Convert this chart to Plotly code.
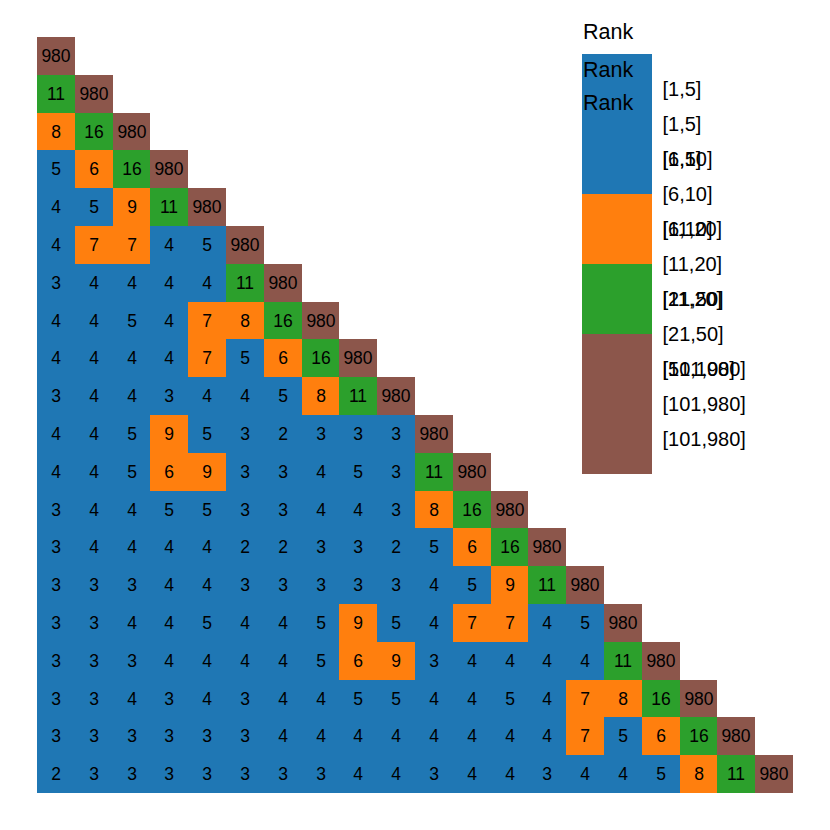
"""Matriz triangular de rangos con barra de color por categorías"""

import plotly.graph_objects as go

# Valores de rango por fila (triangular inferior)
rank_rows = [
    [980],
    [11, 980],
    [8, 16, 980],
    [5, 6, 16, 980],
    [4, 5, 9, 11, 980],
    [4, 7, 7, 4, 5, 980],
    [3, 4, 4, 4, 4, 11, 980],
    [4, 4, 5, 4, 7, 8, 16, 980],
    [4, 4, 4, 4, 7, 5, 6, 16, 980],
    [3, 4, 4, 3, 4, 4, 5, 8, 11, 980],
    [4, 4, 5, 9, 5, 3, 2, 3, 3, 3, 980],
    [4, 4, 5, 6, 9, 3, 3, 4, 5, 3, 11, 980],
    [3, 4, 4, 5, 5, 3, 3, 4, 4, 3, 8, 16, 980],
    [3, 4, 4, 4, 4, 2, 2, 3, 3, 2, 5, 6, 16, 980],
    [3, 3, 3, 4, 4, 3, 3, 3, 3, 3, 4, 5, 9, 11, 980],
    [3, 3, 4, 4, 5, 4, 4, 5, 9, 5, 4, 7, 7, 4, 5, 980],
    [3, 3, 3, 4, 4, 4, 4, 5, 6, 9, 3, 4, 4, 4, 4, 11, 980],
    [3, 3, 4, 3, 4, 3, 4, 4, 5, 5, 4, 4, 5, 4, 7, 8, 16, 980],
    [3, 3, 3, 3, 3, 3, 4, 4, 4, 4, 4, 4, 4, 4, 7, 5, 6, 16, 980],
    [2, 3, 3, 3, 3, 3, 3, 3, 4, 4, 3, 4, 4, 3, 4, 4, 5, 8, 11, 980],
]

# Categorías de rango
cat_labels = ['[1,5]', '[6,10]', '[11,20]', '[21,50]', '[51,100]', '[101,980]']
cat_upper = [5, 10, 20, 50, 100, 980]
# Posición de cada categoría en la barra de color principal
cat_level = [5.5, 3.5, 2.5, 1.5, 1.0, 0.5]

# Etiquetas de las tres barras de color superpuestas
cb_sets = [
    ['[1,5]', '[6,10]', '[11,20]', '[21,50]', '[51,100]', '[101,980]'],
    ['[1,5]', '[6,10]', '[11,20]', '[21,50]', '[101,980]'],
    ['[1,5]', '[6,10]', '[11,20]', '[101,980]'],
]
cb_title = 'Rank'
# Altura (paper) del título de cada barra
cb_title_y = [1.0066, 0.9563, 0.9127]

BLUE, ORANGE, GREEN, BROWN = '#1f77b4', '#ff7f0e', '#2ca02c', '#8c564b'
FONT = 'Liberation Sans, Arial, Helvetica, sans-serif'

n = len(rank_rows)
idx = list(range(1, n + 1))


def categoria(v):
    for i, up in enumerate(cat_upper):
        if v <= up:
            return i
    return len(cat_upper) - 1


z = []
txt = []
for fila in rank_rows:
    z.append([cat_level[categoria(v)] for v in fila] + [None] * (n - len(fila)))
    txt.append([str(v) for v in fila] + [''] * (n - len(fila)))

escala = [
    [0.0, BROWN], [2 / 6, BROWN],
    [2 / 6, GREEN], [3 / 6, GREEN],
    [3 / 6, ORANGE], [4 / 6, ORANGE],
    [4 / 6, BLUE], [1.0, BLUE],
]
transparente = [[0, 'rgba(0,0,0,0)'], [1, 'rgba(0,0,0,0)']]


def barra(etiquetas):
    k = len(etiquetas)
    return dict(
        xref='container', x=574 / 830, xanchor='left', xpad=0,
        yref='container', y=(830 - 281.5) / 830, yanchor='middle', ypad=0,
        lenmode='pixels', len=70 * k,
        thicknessmode='pixels', thickness=70,
        outlinewidth=0,
        tickmode='array',
        tickvals=[k - 0.5 - i for i in range(k)],
        ticktext=etiquetas,
        ticks='outside', ticklen=7, tickcolor='rgba(0,0,0,0)',
        tickfont=dict(size=20, color='black', family=FONT),
    )


fig = go.Figure()

fig.add_trace(go.Heatmap(
    x=idx, y=idx, z=z,
    text=txt, texttemplate='%{text}',
    textfont=dict(size=17.5, color='black', family=FONT),
    colorscale=escala, zmin=0, zmax=6,
    xgap=0, ygap=0,
    colorbar=barra(cb_sets[0]),
    hovertemplate='fila %{y}, col %{x}: %{text}<extra></extra>',
))

# Barras de color adicionales (solo etiquetas)
for etiquetas in cb_sets[1:]:
    fig.add_trace(go.Heatmap(
        x=idx, y=idx, z=z,
        colorscale=transparente, zmin=0, zmax=len(etiquetas),
        colorbar=barra(etiquetas),
        hoverinfo='skip',
    ))

# Títulos de las barras
for ty in cb_title_y:
    fig.add_annotation(
        xref='paper', yref='paper', x=0.7196, y=ty,
        text=cb_title, showarrow=False,
        xanchor='left', yanchor='middle',
        font=dict(size=21.5, color='black', family=FONT),
    )

fig.update_layout(
    width=830, height=830,
    margin=dict(l=29, r=45, t=29, b=45, autoexpand=False),
    plot_bgcolor='white', paper_bgcolor='white',
    xaxis=dict(visible=False, range=[0.5, n + 0.5]),
    yaxis=dict(visible=False, range=[n + 0.5, 0.5]),
    font=dict(family=FONT),
)

fig.write_html("out.html")
